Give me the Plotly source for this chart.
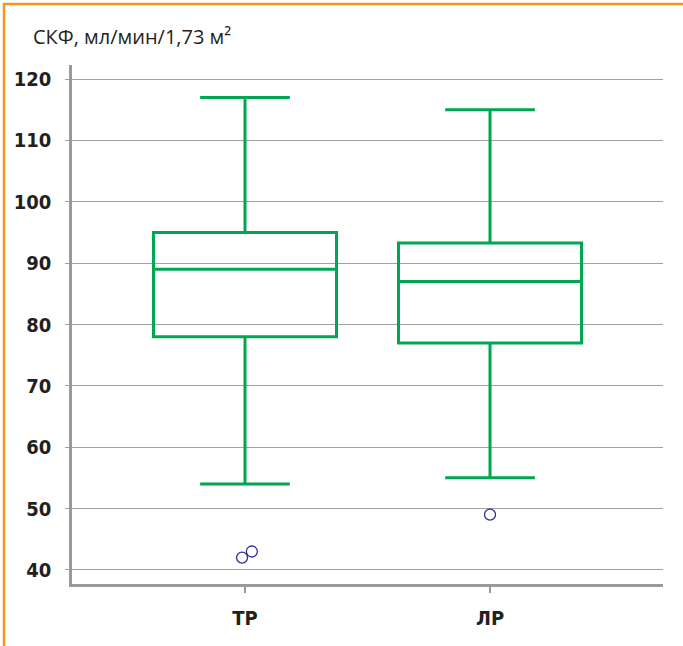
import plotly.graph_objects as go

# ---- data ----
categories = ["ТР", "ЛР"]
lower_whisker = [54, 55]
q1_values = [78, 77]
median_values = [89, 87]
q3_values = [95, 93.3]
upper_whisker = [117, 115]
outliers = [[42, 43], [49]]
y_ticks = [40, 50, 60, 70, 80, 90, 100, 110, 120]
y_title = "СКФ, мл/мин/1,73 м²"

GREEN = "#00A651"
GRID = "#A0A0A0"
AXIS = "#9A9A9A"
TEXT = "#231F20"
ORANGE = "#F7941D"
BLUE = "#2E3192"

W, H = 683, 646
L, R, T, B = 72, 20, 65, 62

fig = go.Figure()

positions = list(range(len(categories)))
for i, cat in enumerate(categories):
    fig.add_trace(go.Box(
        x=[positions[i]],
        q1=[q1_values[i]], median=[median_values[i]], q3=[q3_values[i]],
        lowerfence=[lower_whisker[i]], upperfence=[upper_whisker[i]],
        name=cat, boxpoints=False, width=0.747, whiskerwidth=0.49,
        line=dict(color=GREEN, width=3), fillcolor="rgba(255,255,255,0)",
        showlegend=False, hoverinfo="skip",
    ))

# outliers, dodged horizontally when several share a category
ox, oy = [], []
for i, vals in enumerate(outliers):
    n = len(vals)
    for j, v in enumerate(sorted(vals)):
        ox.append(positions[i] + 0.008 + (j - (n - 1) / 2) * 0.04 if n > 1 else positions[i])
        oy.append(v)
fig.add_trace(go.Scatter(
    x=ox, y=oy, mode="markers",
    marker=dict(symbol="circle-open", size=11, color=BLUE, line=dict(width=1.3, color=BLUE)),
    showlegend=False, hoverinfo="skip",
))

tickfont = dict(family="'DejaVu Sans Condensed', 'Liberation Sans Narrow', Roboto, sans-serif",
                size=20, color=TEXT, weight="bold")

fig.update_layout(
    width=W, height=H,
    margin=dict(l=L, r=R, t=T, b=B, pad=0),
    paper_bgcolor="white", plot_bgcolor="white",
    xaxis=dict(
        range=[-0.706, 1.706], tickmode="array", tickvals=positions, ticktext=categories,
        showgrid=False, zeroline=False, showline=True, linecolor=AXIS, linewidth=3,
        ticks="outside", ticklen=6, tickwidth=2, tickcolor=AXIS,
        tickfont=tickfont, ticklabelstandoff=8,
    ),
    yaxis=dict(
        range=[37.7, 122.3], tickmode="array", tickvals=y_ticks,
        showgrid=True, gridcolor=GRID, gridwidth=1, zeroline=False,
        showline=True, linecolor=AXIS, linewidth=2.5,
        ticks="outside", ticklen=4, tickwidth=1, tickcolor=GRID,
        tickfont=tickfont, ticklabelstandoff=10,
    ),
    annotations=[dict(
        text=y_title, xref="paper", yref="paper",
        x=(31 - L) / (W - L - R), y=(H - B - 37) / (H - T - B),
        xanchor="left", yanchor="middle", showarrow=False,
        font=dict(family="Open Sans", size=20, color=TEXT),
    )],
)

pw, ph = W - L - R, H - T - B
def px(p):
    return (p - L) / pw
def py(p):
    return (H - B - p) / ph

fig.add_shape(type="line", xref="paper", yref="paper",
              x0=px(3), x1=px(W + 5), y0=py(4), y1=py(4),
              line=dict(color=ORANGE, width=2.5))
fig.add_shape(type="line", xref="paper", yref="paper",
              x0=px(4), x1=px(4), y0=py(3), y1=py(H + 5),
              line=dict(color=ORANGE, width=2.5))

fig.write_html("out.html", config={"displayModeBar": False},
               post_script="document.body.style.margin='0';document.body.style.overflow='hidden';")
